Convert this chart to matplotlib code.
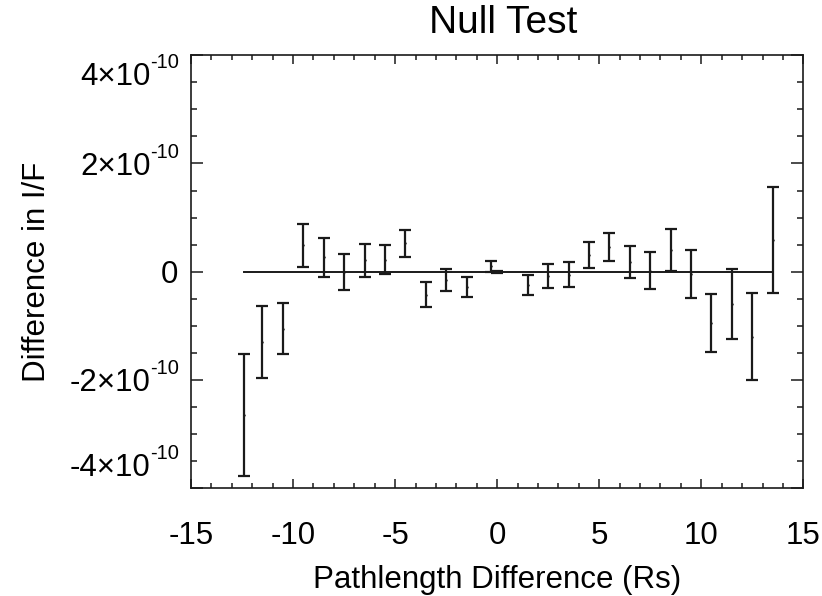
import numpy as np
import matplotlib
matplotlib.use("Agg")
import matplotlib.pyplot as plt
from matplotlib.ticker import MultipleLocator, FixedLocator
from matplotlib.transforms import ScaledTranslation

# =========================================================
# DATA
# =========================================================
x_pos = [-12.4, -11.5, -10.5, -9.5, -8.5, -7.5, -6.5, -5.5, -4.5, -3.5,
         -2.5, -1.5, -0.3, 0.0, 1.5, 2.5, 3.5, 4.5, 5.5, 6.5, 7.5, 8.5,
         9.5, 10.5, 11.5, 12.5, 13.5]

# lower / upper ends of each error bar (units of 1e-10)
y_low = [-3.78, -1.97, -1.53, 0.09, -0.10, -0.345, -0.09, -0.05, 0.28, -0.65,
         -0.36, -0.47, 0.0, -0.02, -0.43, -0.295, -0.28, 0.06, 0.20, -0.11,
         -0.32, 0.01, -0.49, -1.49, -1.25, -2.0, -0.40]
y_high = [-1.53, -0.64, -0.58, 0.89, 0.63, 0.325, 0.51, 0.49, 0.77, -0.20,
          0.04, -0.105, 0.20, 0.02, -0.063, 0.135, 0.17, 0.54, 0.71, 0.47,
          0.356, 0.79, 0.406, -0.42, 0.055, -0.40, 1.57]

x_ticks = [-15, -10, -5, 0, 5, 10, 15]
x_tick_labels = ["-15", "-10", "-5", "0", "5", "10", "15"]
y_ticks = [-4e-10, -2e-10, 0, 2e-10, 4e-10]
y_tick_mant = ["-4×10", "-2×10", "0", "2×10", "4×10"]
y_tick_exp = ["-10", "-10", "", "-10", "-10"]

TITLE = "Null Test"
X_LABEL = "Pathlength Difference (Rs)"
Y_LABEL = "Difference in I/F"

# =========================================================
# STYLE
# =========================================================
plt.rcParams["font.family"] = ["Liberation Sans", "DejaVu Sans"]
plt.rcParams["axes.unicode_minus"] = False

ink = "#1a1a1a"

# =========================================================
# PLOT
# =========================================================
fig = plt.figure(figsize=(8.22, 5.96), dpi=100)
ax = fig.add_axes([0.2324, 0.1812, 0.7449, 0.7260])

scale = 1e-10
x = np.array(x_pos)
lo = np.array(y_low) * scale
hi = np.array(y_high) * scale
mid = (lo + hi) / 2
err = (hi - lo) / 2

# zero reference line across the data range
ax.plot(x, np.zeros_like(x), color=ink, lw=1.4, zorder=2)

ax.errorbar(x, mid, yerr=err, fmt="none", ecolor=ink, elinewidth=1.6,
            capsize=4, capthick=1.6, zorder=3)
ax.plot(x, mid, linestyle="none", marker=".", markersize=1.5, color=ink)

ax.set_xlim(-15, 15)
ax.set_ylim(-4e-10, 4e-10)

ax.xaxis.set_major_locator(FixedLocator(x_ticks))
ax.xaxis.set_minor_locator(MultipleLocator(1))
ax.set_xticklabels(x_tick_labels)
ax.yaxis.set_major_locator(FixedLocator(y_ticks))
ax.yaxis.set_minor_locator(MultipleLocator(0.5e-10))
ax.set_yticklabels(y_tick_mant)

ax.tick_params(which="both", direction="in", top=True, right=True,
               color=ink, width=1.1, labelsize=22.5)
ax.tick_params(axis="x", which="major", length=6.5, pad=24)
ax.tick_params(axis="x", which="minor", length=3.3)
ax.tick_params(axis="y", which="major", length=8.5, pad=9)
ax.tick_params(axis="y", which="minor", length=4.3)

for sp in ax.spines.values():
    sp.set_linewidth(1.2)
    sp.set_color(ink)

# ---- y labels: mantissa as tick label, exponent as small raised text ----
# outermost labels sit inside the axis range, as in the original
shift_y = {0: 24, len(y_ticks) - 1: -18}
exp_w = 28
for i, (lab, t, ex) in enumerate(zip(ax.get_yticklabels(), y_ticks, y_tick_exp)):
    dy = shift_y.get(i, 0)
    dx = -exp_w if ex else 0
    lab.set_transform(lab.get_transform()
                      + ScaledTranslation(dx / 100, dy / 100, fig.dpi_scale_trans))
    if ex:
        ax.annotate(ex, xy=(0, t), xycoords=ax.get_yaxis_transform(),
                    xytext=(-12.5, dy + 13), textcoords="offset pixels",
                    ha="right", va="center_baseline", fontsize=14.5,
                    annotation_clip=False)

ax.set_title(TITLE, fontsize=28, x=0.51, pad=16)
ax.set_xlabel(X_LABEL, fontsize=22.5, labelpad=10)
ax.set_ylabel(Y_LABEL, fontsize=22.5)
ax.yaxis.set_label_coords(-0.227, 0.5)

fig.savefig("out.png", dpi=100)
